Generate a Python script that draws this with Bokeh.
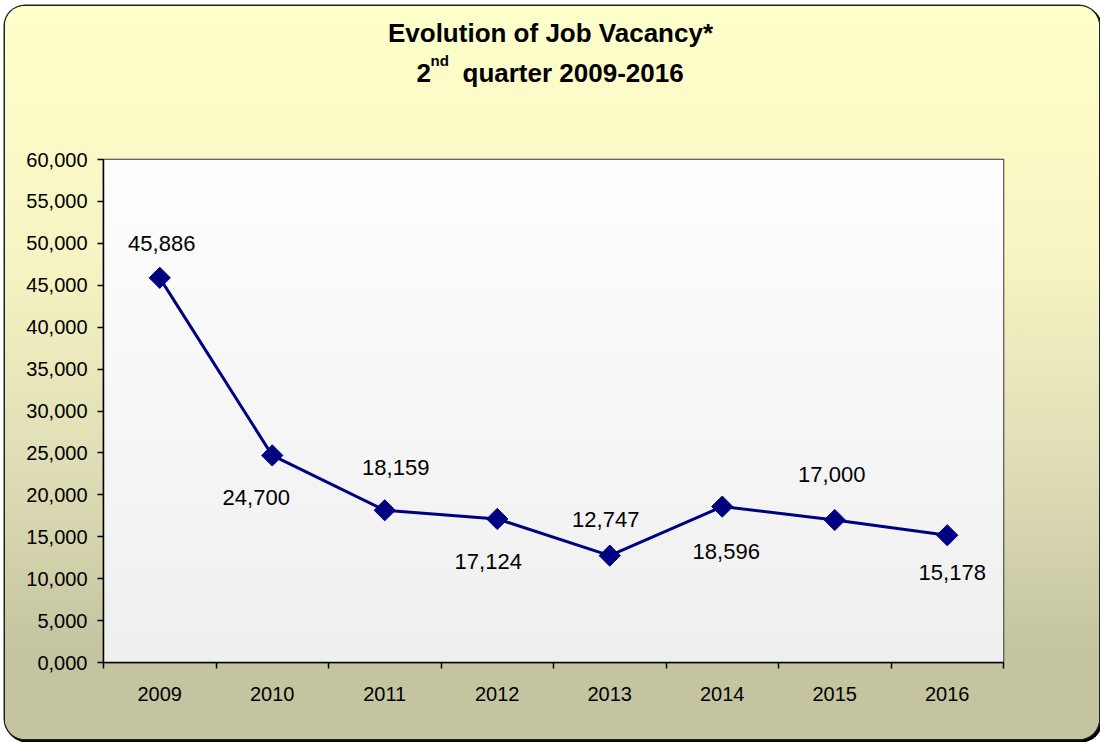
import numpy as np
from bokeh.plotting import figure
from bokeh.layouts import column
from bokeh.models import ColumnDataSource, FixedTicker, Range1d, InlineStyleSheet
from bokeh.core.properties import value
from bokeh.embed import file_html
from bokeh.resources import INLINE

# ---- data ----
years = ["2009", "2010", "2011", "2012", "2013", "2014", "2015", "2016"]
vacancies = [45886, 24700, 18159, 17124, 12747, 18596, 17000, 15178]
value_labels = ["45,886", "24,700", "18,159", "17,124", "12,747", "18,596", "17,000", "15,178"]
y_ticks = [0, 5000, 10000, 15000, 20000, 25000, 30000, 35000, 40000, 45000, 50000, 55000, 60000]
y_tick_labels = ["0,000", "5,000", "10,000", "15,000", "20,000", "25,000", "30,000",
                 "35,000", "40,000", "45,000", "50,000", "55,000", "60,000"]
title_line1 = "Evolution of Job Vacancy*"
title_num = "2"
title_sup = "nd"
title_rest = "quarter 2009-2016"

# ---- label placement (style, pixels) ----
label_dx = [2, -16, 11, -9, -4, 4, -3, 5]
label_dy = [-34, 42, -43, 43, -36, 45, -45, 37]

FONT = "Liberation Sans"
NAVY = "#000080"
TITLE_H = 100
FRAME_W, FRAME_H = 900, 503
BORDER_L, BORDER_R = 98, 96

# ---------------- title strip (frame aligned with the chart frame) ----------------
tf = figure(frame_width=FRAME_W, frame_height=TITLE_H,
            x_range=Range1d(0, FRAME_W), y_range=Range1d(0, TITLE_H),
            x_axis_type=None, y_axis_type=None, output_backend="svg", toolbar_location=None,
            min_border_left=BORDER_L, min_border_right=BORDER_R,
            min_border_top=0, min_border_bottom=0, title=None)
tf.border_fill_alpha = 0
tf.background_fill_alpha = 0
tf.outline_line_color = None
tf.grid.visible = False

tf.text(x=[447], y=[73.5], text=[title_line1], text_align="center", text_baseline="middle",
        text_font=value(FONT), text_font_style="bold", text_font_size="26px", text_color="black")
tf.text(x=[313, 359], y=[33.5, 33.5], text=[title_num, title_rest], text_align="left",
        text_baseline="middle", text_font=value(FONT), text_font_style="bold",
        text_font_size="26px", text_color="black")
tf.text(x=[327], y=[46], text=[title_sup], text_align="left", text_baseline="middle",
        text_font=value(FONT), text_font_style="bold", text_font_size="15px", text_color="black")

# ---------------- main chart ----------------
xs = list(range(len(years)))
src = ColumnDataSource(dict(x=xs, v=vacancies, label=value_labels, dx=label_dx, dy=label_dy))

x_range = Range1d(-0.5, len(years) - 0.5)
y_range = Range1d(0, 60000)

p = figure(title=None, frame_width=FRAME_W, frame_height=FRAME_H,
           x_range=x_range, y_range=y_range,
           output_backend="svg", toolbar_location=None,
           min_border_left=BORDER_L, min_border_right=BORDER_R, min_border_top=153 - TITLE_H,
           min_border_bottom=77)

p.border_fill_alpha = 0
p.background_fill_color = "#F7F7F7"
p.outline_line_color = "#333333"
p.outline_line_width = 1.5
p.xgrid.visible = False
p.ygrid.visible = False

# frame gradient (white -> light gray)
n = 256
t = np.linspace(0, 1, n)
top_c = np.array([255, 255, 255])
bot_c = np.array([239, 239, 239])
cols = (bot_c[None, :] * (1 - t[:, None]) + top_c[None, :] * t[:, None]).astype(np.uint32)
img = np.empty((n, 1), dtype=np.uint32)
img[:, 0] = (255 << 24) | (cols[:, 2] << 16) | (cols[:, 1] << 8) | cols[:, 0]
p.image_rgba(image=[img], x=x_range.start, y=y_range.start,
             dw=x_range.end - x_range.start, dh=y_range.end - y_range.start)

# data
p.line(x="x", y="v", source=src, line_color=NAVY, line_width=3)
p.scatter(x="x", y="v", source=src, marker="square", size=15, angle=np.pi / 4,
          fill_color=NAVY, line_color=NAVY)
p.text(x="x", y="v", text="label", source=src, x_offset="dx", y_offset="dy",
       text_align="center", text_baseline="middle", text_font=value(FONT),
       text_font_size="22px", text_color="black")

# x axis
xa = p.xaxis[0]
xa.ticker = FixedTicker(ticks=xs, minor_ticks=[i - 0.5 for i in range(len(years) + 1)])
xa.major_label_overrides = {i: y for i, y in zip(xs, years)}
xa.major_tick_out = 0
xa.major_tick_in = 0
xa.minor_tick_out = 6
xa.minor_tick_in = 0
xa.minor_tick_line_color = "black"
xa.minor_tick_line_width = 1.5
xa.axis_line_color = "black"
xa.axis_line_width = 1.5
xa.major_label_standoff = 18
xa.major_label_text_font = FONT
xa.major_label_text_font_size = "20px"
xa.major_label_text_color = "black"

# y axis
ya = p.yaxis[0]
ya.ticker = FixedTicker(ticks=y_ticks)
ya.major_label_overrides = dict(zip(y_ticks, y_tick_labels))
ya.major_tick_out = 6
ya.major_tick_in = 0
ya.major_tick_line_color = "black"
ya.major_tick_line_width = 1.5
ya.minor_tick_line_color = None
ya.axis_line_color = "black"
ya.axis_line_width = 1.5
ya.major_label_standoff = 10
ya.major_label_text_font = FONT
ya.major_label_text_font_size = "20px"
ya.major_label_text_color = "black"

css = """
:host {
  margin: 6px 0 0 5px;
  background: linear-gradient(to bottom, #FFFFCC 0%, #F6F4C2 35%, #DCDBB4 65%, #C4C4A0 88%, #C4C4A0 100%);
  border-radius: 20px;
  box-shadow: 0 0 0 1.5px #222222, 2px 2px 0 1.5px #000000;
}
"""
layout = column(tf, p, spacing=0)
layout.stylesheets = [InlineStyleSheet(css=css)]

open("out.html", "w").write(file_html(layout, INLINE))
